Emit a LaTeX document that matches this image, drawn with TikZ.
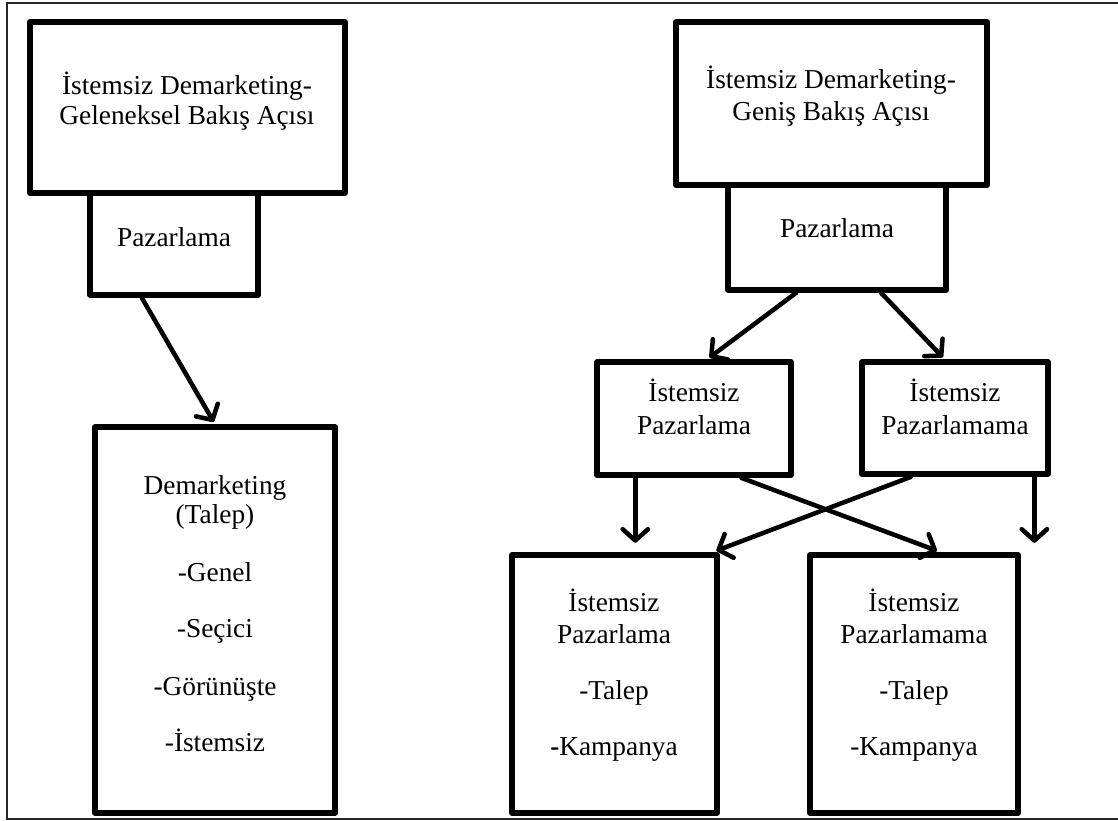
\documentclass[tikz,border=0pt]{standalone}
\usepackage{fontspec}
\setmainfont{Liberation Serif}
\usetikzlibrary{arrows.meta,calc,fit}
\begin{document}
\begin{tikzpicture}[x=0.75pt,y=-0.75pt,
  box/.style={draw,line width=4.3pt,rectangle,line join=round,inner sep=0pt},
  txt/.style={anchor=base,inner sep=0pt,font=\fontsize{20.5}{24}\selectfont},
  conn/.style={line width=3.4pt,line cap=round,-{Straight Barb[length=8.5pt,width=19pt,round]}},
  frameline/.style={line width=1.6pt,black!85}]
\useasboundingbox (0,0) rectangle (1118,821);

% outer frame (open on the right)
\coordinate (fa) at (1118,3);
\coordinate (fb) at (7,3);
\coordinate (fc) at (7,819);
\coordinate (fd) at (1118,819);
\draw[frameline] (fa) -- (fb) -- (fc) -- (fd);

% left column
\node[box,fit={(30,22)(345,193)}] (tl) {};
\node[box,fit={(90,193)(258,295)}] (pazL) {};
\node[box,fit={(95,427)(335,813)}] (dem) {};

% right column
\node[box,fit={(676,22)(987,185)}] (tr) {};
\node[box,fit={(728,185)(946,290)}] (pazR) {};
\node[box,fit={(597,362)(791,475)}] (ip) {};
\node[box,fit={(862,362)(1048,474)}] (ipm) {};
\node[box,fit={(512,555)(717,813)}] (bl) {};
\node[box,fit={(810,555)(1018,813)}] (br) {};

% texts
\node[txt] (tl1) at (187,94) {İstemsiz Demarketing-};
\node[txt] (tl2) at (187,124) {Geleneksel Bakış Açısı};
\node[txt] (pl) at (174,246) {Pazarlama};

\node[txt] (d1) at (215,494) {Demarketing};
\node[txt] (d2) at (215,523) {(Talep)};
\node[txt] (d3) at (215,581) {-Genel};
\node[txt] (d4) at (215,637) {-Seçici};
\node[txt] (d5) at (215,695) {-Görünüşte};
\node[txt] (d6) at (215,751) {-İstemsiz};

\node[txt] (tr1) at (831,88) {İstemsiz Demarketing-};
\node[txt] (tr2) at (831,120) {Geniş Bakış Açısı};
\node[txt] (pr) at (837,237) {Pazarlama};

\node[txt] (ip1) at (694,401) {İstemsiz};
\node[txt] (ip2) at (694,434) {Pazarlama};
\node[txt] (ipm1) at (955,401) {İstemsiz};
\node[txt] (ipm2) at (955,434) {Pazarlamama};

\node[txt] (bl1) at (614,611) {İstemsiz};
\node[txt] (bl2) at (614,643) {Pazarlama};
\node[txt] (bl3) at (614,699) {-Talep};
\node[txt] (bl4) at (614,755) {\textbf{-}Kampanya};

\node[txt] (br1) at (914,611) {İstemsiz};
\node[txt] (br2) at (914,643) {Pazarlamama};
\node[txt] (br3) at (914,699) {-Talep};
\node[txt] (br4) at (914,755) {-Kampanya};

% connector end points
\coordinate (s1) at ($(pazL.south west)!0.315!(pazL.south east)$);
\coordinate (s2) at ($(pazR.south west)!0.317!(pazR.south east)$);
\coordinate (e2) at ($(ip.north west)!0.567!(ip.north east)$);
\coordinate (s3) at ($(pazR.south west)!0.697!(pazR.south east)$);
\coordinate (e3) at ($(ipm.north west)!0.446!(ipm.north east)$);
\coordinate (s4) at ($(ip.south west)!0.206!(ip.south east)$);
\coordinate (s5) at ($(ipm.south west)!0.914!(ipm.south east)$);
\coordinate (s6) at ($(ip.south west)!0.737!(ip.south east)$);
\coordinate (e6) at ($(br.north west)!0.625!(br.north east)$);
\coordinate (s7) at ($(ipm.south west)!0.27!(ipm.south east)$);
\coordinate (e7) at ($(bl.north west)!0.966!(bl.north east)$);

% connectors
\draw[conn,shorten >=2pt] (s1) -- (dem.north);
\draw[conn,shorten >=2pt] (s2) -- (e2);
\draw[conn,shorten >=2pt] (s3) -- (e3);
\draw[conn,shorten >=7pt] (s4) -- (s4 |- bl.north);
\draw[conn,shorten >=7pt] (s5) -- (s5 |- br.north);
\draw[conn,shorten >=3pt] (s6) -- (e6);
\draw[conn,shorten >=3pt] (s7) -- (e7);
\end{tikzpicture}
\end{document}
